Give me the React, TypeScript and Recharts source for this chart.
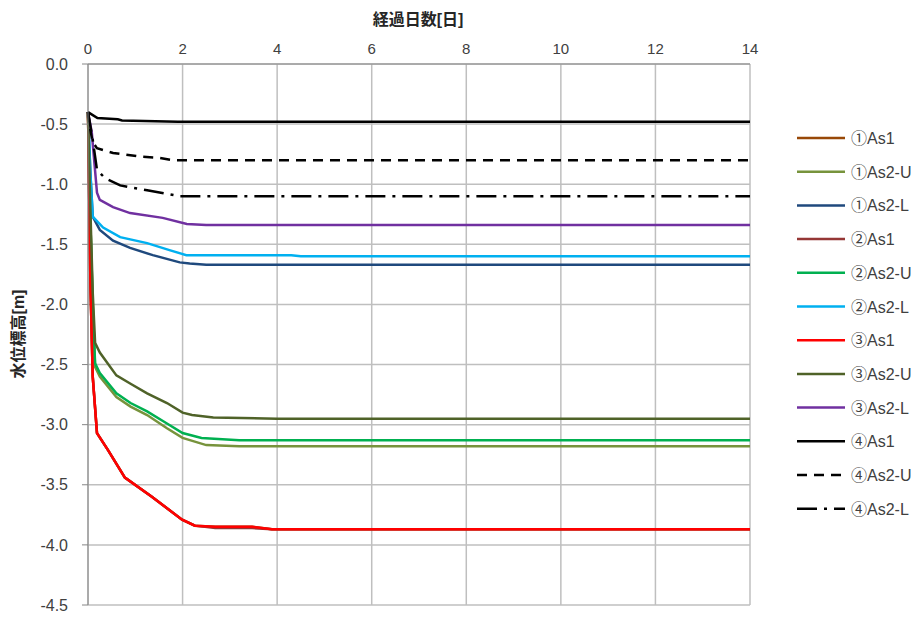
import React from "react";
import { LineChart, Line, XAxis, YAxis, CartesianGrid } from "recharts";

// 経過日数[日] vs 水位標高[m]
const xTicks = [0, 2, 4, 6, 8, 10, 12, 14];
const yTicks = [0, -0.5, -1, -1.5, -2, -2.5, -3, -3.5, -4, -4.5];

const s1As1: [number, number][] = [
  [0, -0.4], [0.05, -1.8], [0.1, -2.6], [0.19, -3.07], [0.42, -3.21], [0.78, -3.44],
  [1.35, -3.6], [1.99, -3.79], [2.26, -3.84], [2.69, -3.85], [3.47, -3.85], [3.89, -3.87], [14, -3.87],
];
const s1As2U: [number, number][] = [
  [0, -0.4], [0.05, -1.3], [0.1, -2.0], [0.15, -2.52], [0.25, -2.6], [0.6, -2.77], [0.9, -2.85],
  [1.25, -2.92], [1.67, -3.03], [2.0, -3.11], [2.5, -3.17], [3.2, -3.18], [14, -3.18],
];
const s1As2L: [number, number][] = [
  [0, -0.4], [0.05, -0.9], [0.1, -1.27], [0.25, -1.38], [0.53, -1.47], [0.89, -1.53],
  [1.37, -1.59], [1.94, -1.65], [2.15, -1.66], [2.5, -1.67], [14, -1.67],
];
const s2As1: [number, number][] = [
  [0, -0.4], [0.05, -1.8], [0.1, -2.6], [0.19, -3.07], [0.42, -3.21], [0.78, -3.44],
  [1.35, -3.6], [1.99, -3.79], [2.26, -3.84], [2.69, -3.86], [3.47, -3.86], [3.89, -3.87], [14, -3.87],
];
const s2As2U: [number, number][] = [
  [0, -0.4], [0.05, -1.3], [0.1, -2.0], [0.15, -2.49], [0.25, -2.57], [0.6, -2.74], [0.9, -2.82],
  [1.25, -2.89], [1.67, -2.99], [2.0, -3.07], [2.4, -3.11], [3.2, -3.13], [14, -3.13],
];
const s2As2L: [number, number][] = [
  [0, -0.4], [0.05, -0.91], [0.1, -1.27], [0.32, -1.36], [0.68, -1.44], [1.25, -1.49],
  [1.74, -1.55], [2.08, -1.59], [4.3, -1.59], [4.5, -1.6], [14, -1.6],
];
const s3As1: [number, number][] = [
  [0, -0.4], [0.05, -1.8], [0.1, -2.6], [0.19, -3.07], [0.42, -3.21], [0.78, -3.44],
  [1.35, -3.6], [1.99, -3.79], [2.26, -3.84], [2.69, -3.85], [3.47, -3.85], [3.89, -3.87], [14, -3.87],
];
const s3As2U: [number, number][] = [
  [0, -0.4], [0.05, -1.2], [0.1, -1.9], [0.15, -2.32], [0.25, -2.4], [0.6, -2.59], [0.9, -2.66],
  [1.25, -2.74], [1.67, -2.82], [2.0, -2.9], [2.2, -2.92], [2.65, -2.94], [4.0, -2.95], [14, -2.95],
];
const s3As2L: [number, number][] = [
  [0, -0.4], [0.08, -0.57], [0.19, -1.07], [0.25, -1.13], [0.53, -1.19], [0.89, -1.24],
  [1.58, -1.28], [2.09, -1.33], [2.5, -1.34], [14, -1.34],
];
const s4As1: [number, number][] = [
  [0, -0.4], [0.2, -0.45], [0.63, -0.46], [0.72, -0.47], [1.9, -0.48], [14, -0.48],
];
const s4As2U: [number, number][] = [
  [0, -0.4], [0.05, -0.55], [0.1, -0.65], [0.19, -0.7], [0.53, -0.74], [1.1, -0.77],
  [1.5, -0.78], [1.8, -0.8], [14, -0.8],
];
const s4As2L: [number, number][] = [
  [0, -0.4], [0.1, -0.63], [0.19, -0.88], [0.36, -0.95], [0.68, -1.01], [1.25, -1.05],
  [1.95, -1.1], [14, -1.1],
];

const series = [
  { name: "①As1", pts: s1As1, color: "#984807", dash: undefined },
  { name: "①As2-U", pts: s1As2U, color: "#77933C", dash: undefined },
  { name: "①As2-L", pts: s1As2L, color: "#1F497D", dash: undefined },
  { name: "②As1", pts: s2As1, color: "#953735", dash: undefined },
  { name: "②As2-U", pts: s2As2U, color: "#00B050", dash: undefined },
  { name: "②As2-L", pts: s2As2L, color: "#00B0F0", dash: undefined },
  { name: "③As1", pts: s3As1, color: "#FF0000", dash: undefined },
  { name: "③As2-U", pts: s3As2U, color: "#4F6228", dash: undefined },
  { name: "③As2-L", pts: s3As2L, color: "#7030A0", dash: undefined },
  { name: "④As1", pts: s4As1, color: "#000000", dash: undefined },
  { name: "④As2-U", pts: s4As2U, color: "#000000", dash: "10 7" },
  { name: "④As2-L", pts: s4As2L, color: "#000000", dash: "20 7 3 7" },
];

const font = "'Liberation Sans', 'Noto Sans CJK JP', sans-serif";

const LegendBox = () => (
  <svg width={140} height={400} style={{ position: "absolute", left: 797, top: 128 }}>
    {series.map((s, i) => {
      const y = 10 + i * 33.7;
      return (
        <g key={s.name}>
          <line x1={0} x2={48} y1={y} y2={y} stroke={s.color} strokeWidth={2.5} strokeDasharray={s.dash} />
          <text x={54} y={y + 6} fontSize={16} fill="#404040" fontFamily={font}>
            {s.name}
          </text>
        </g>
      );
    })}
  </svg>
);

export default function App() {
  return (
    <div style={{ position: "absolute", left: 0, top: 0, width: 922, height: 617, background: "#fff" }}>
      <LineChart width={922} height={617} margin={{ top: 34, right: 172, bottom: 12, left: 0 }}>
        <CartesianGrid stroke="#BFBFBF" strokeWidth={1.5} />
        <XAxis
          type="number"
          dataKey="d"
          orientation="top"
          domain={[0, 14]}
          ticks={xTicks}
          height={30}
          tickLine={false}
          axisLine={{ stroke: "#868686" }}
          tick={{ fontSize: 15, fill: "#404040", fontFamily: font }}
          tickMargin={4}
          allowDuplicatedCategory={false}
        />
        <YAxis
          type="number"
          dataKey="h"
          domain={[-4.5, 0]}
          ticks={yTicks}
          width={88}
          tickSize={6}
          tickLine={{ stroke: "#868686" }}
          axisLine={{ stroke: "#868686" }}
          tickFormatter={(v: number) => v.toFixed(1)}
          tick={{ fontSize: 16, fill: "#404040", fontFamily: font }}
          tickMargin={14}
        />
        {series.map((s) => (
          <Line
            key={s.name}
            data={s.pts.map(([d, h]) => ({ d, h }))}
            dataKey="h"
            name={s.name}
            type="linear"
            stroke={s.color}
            strokeWidth={2.5}
            strokeDasharray={s.dash}
            dot={false}
            activeDot={false}
            isAnimationActive={false}
          />
        ))}
      </LineChart>
      <LegendBox />
      <div
        style={{
          position: "absolute",
          left: 318,
          top: 6,
          width: 200,
          textAlign: "center",
          fontFamily: font,
          fontWeight: "bold",
          fontSize: 16,
          color: "#262626",
        }}
      >
        経過日数[日]
      </div>
      <div
        style={{
          position: "absolute",
          left: 17,
          top: 334,
          transform: "translate(-50%, -50%) rotate(-90deg)",
          whiteSpace: "nowrap",
          fontFamily: font,
          fontWeight: "bold",
          fontSize: 16,
          color: "#262626",
        }}
      >
        水位標高[m]
      </div>
    </div>
  );
}
